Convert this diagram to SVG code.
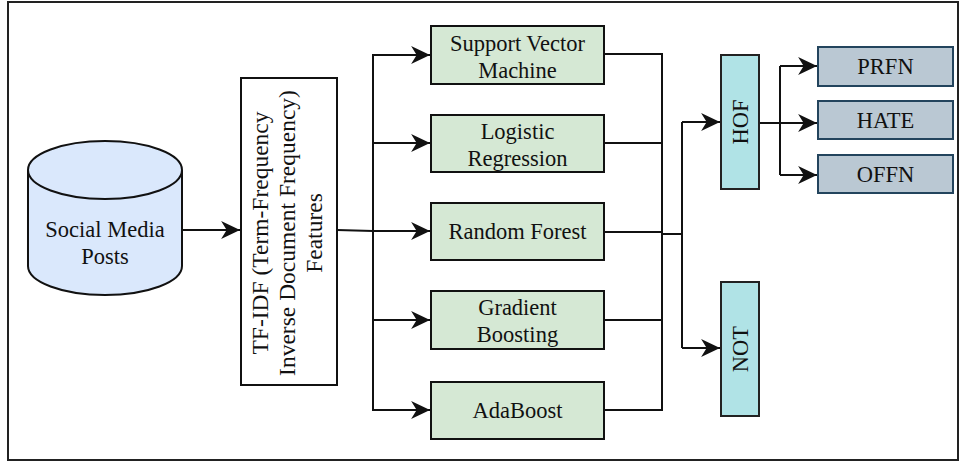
<svg xmlns="http://www.w3.org/2000/svg" width="960" height="463" viewBox="0 0 960 463">
<defs>
<style>
.t{font-family:"Liberation Serif","Times New Roman",serif;font-size:22.5px;fill:#111;text-anchor:middle}
.tb{font-size:23.5px}
.ln{fill:none;stroke:#111;stroke-width:2}
.g{fill:#d5e8d4;stroke:#111;stroke-width:2}
.c{fill:#b0e3e6;stroke:#222;stroke-width:2}
.s{fill:#bac8d3;stroke:#23445d;stroke-width:2}
</style>
<marker id="ah" markerUnits="userSpaceOnUse" markerWidth="20" markerHeight="20" viewBox="-17 -9 18 18" refX="0" refY="0" orient="auto">
<path d="M0,0 L-17,-8 L-12,0 L-17,8 Z" fill="#111"/>
</marker>
</defs>
<rect x="8" y="2" width="950" height="458" fill="#fff" stroke="#222" stroke-width="2"/>
<g id="connectors">
<line class="ln" x1="182" y1="230" x2="240" y2="230" marker-end="url(#ah)"/>
<polyline class="ln" points="337,230 373,231"/>
<line class="ln" x1="373" y1="54" x2="373" y2="411"/>
<line class="ln" x1="373" y1="55" x2="430" y2="55" marker-end="url(#ah)"/>
<line class="ln" x1="373" y1="143" x2="430" y2="143" marker-end="url(#ah)"/>
<line class="ln" x1="373" y1="231" x2="430" y2="231" marker-end="url(#ah)"/>
<line class="ln" x1="373" y1="320" x2="430" y2="320" marker-end="url(#ah)"/>
<line class="ln" x1="373" y1="410" x2="430" y2="410" marker-end="url(#ah)"/>
<line class="ln" x1="604" y1="54" x2="662" y2="54"/>
<line class="ln" x1="604" y1="143" x2="662" y2="143"/>
<line class="ln" x1="604" y1="232" x2="662" y2="232"/>
<line class="ln" x1="604" y1="320" x2="662" y2="320"/>
<line class="ln" x1="604" y1="410" x2="662" y2="410"/>
<line class="ln" x1="662" y1="53" x2="662" y2="411"/>
<line class="ln" x1="662" y1="234" x2="682" y2="234"/>
<line class="ln" x1="682" y1="122" x2="682" y2="348"/>
<line class="ln" x1="682" y1="122" x2="720" y2="122" marker-end="url(#ah)"/>
<line class="ln" x1="682" y1="348" x2="720" y2="348" marker-end="url(#ah)"/>
<line class="ln" x1="759" y1="123" x2="780" y2="123"/>
<line class="ln" x1="780" y1="66" x2="780" y2="175"/>
<line class="ln" x1="780" y1="66" x2="817" y2="66" marker-end="url(#ah)"/>
<line class="ln" x1="780" y1="123" x2="817" y2="123" marker-end="url(#ah)"/>
<line class="ln" x1="780" y1="175" x2="817" y2="175" marker-end="url(#ah)"/>
</g>
<g id="posts">
<path d="M28,170 A77,29 0 0,1 182,170 L182,266 A77,29 0 0,1 28,266 Z" fill="#dae8fc" stroke="#111" stroke-width="2"/>
<path d="M28,170 A77,29 0 0,0 182,170" fill="none" stroke="#111" stroke-width="2"/>
<text class="t" x="105" y="237">Social Media</text>
<text class="t" x="105" y="264">Posts</text>
</g>
<g id="tfidf">
<rect x="241" y="78" width="96" height="307" fill="#fff" stroke="#111" stroke-width="2"/>
<g transform="translate(289,233) rotate(-90)">
<text class="t tb" x="0" y="-21">TF-IDF (Term-Frequency</text>
<text class="t tb" x="0" y="6">Inverse Document Frequency)</text>
<text class="t tb" x="0" y="33">Features</text>
</g>
</g>
<g id="svm">
<rect class="g" x="431" y="26" width="173" height="58"/>
<text class="t" x="517.5" y="50.5">Support Vector</text>
<text class="t" x="517.5" y="77.5">Machine</text>
</g>
<g id="lr">
<rect class="g" x="431" y="115" width="173" height="57"/>
<text class="t" x="517.5" y="138.5">Logistic</text>
<text class="t" x="517.5" y="165.5">Regression</text>
</g>
<g id="rf">
<rect class="g" x="431" y="203" width="173" height="57"/>
<text class="t" x="517.5" y="239">Random Forest</text>
</g>
<g id="gb">
<rect class="g" x="431" y="291" width="173" height="58"/>
<text class="t" x="517.5" y="315">Gradient</text>
<text class="t" x="517.5" y="342">Boosting</text>
</g>
<g id="ada">
<rect class="g" x="431" y="382" width="173" height="57"/>
<text class="t" x="517.5" y="417.5">AdaBoost</text>
</g>
<g id="hof">
<rect class="c" x="721" y="55" width="38" height="134"/>
<text class="t" transform="translate(740,122) rotate(-90)" x="0" y="8">HOF</text>
</g>
<g id="not">
<rect class="c" x="721" y="282" width="38" height="134"/>
<text class="t" transform="translate(740,349) rotate(-90)" x="0" y="8">NOT</text>
</g>
<g id="prfn">
<rect class="s" x="818" y="47" width="135" height="39"/>
<text class="t" x="885.5" y="74">PRFN</text>
</g>
<g id="hate">
<rect class="s" x="818" y="101" width="135" height="38"/>
<text class="t" x="885.5" y="128">HATE</text>
</g>
<g id="offn">
<rect class="s" x="818" y="155" width="135" height="38"/>
<text class="t" x="885.5" y="182">OFFN</text>
</g>
</svg>
